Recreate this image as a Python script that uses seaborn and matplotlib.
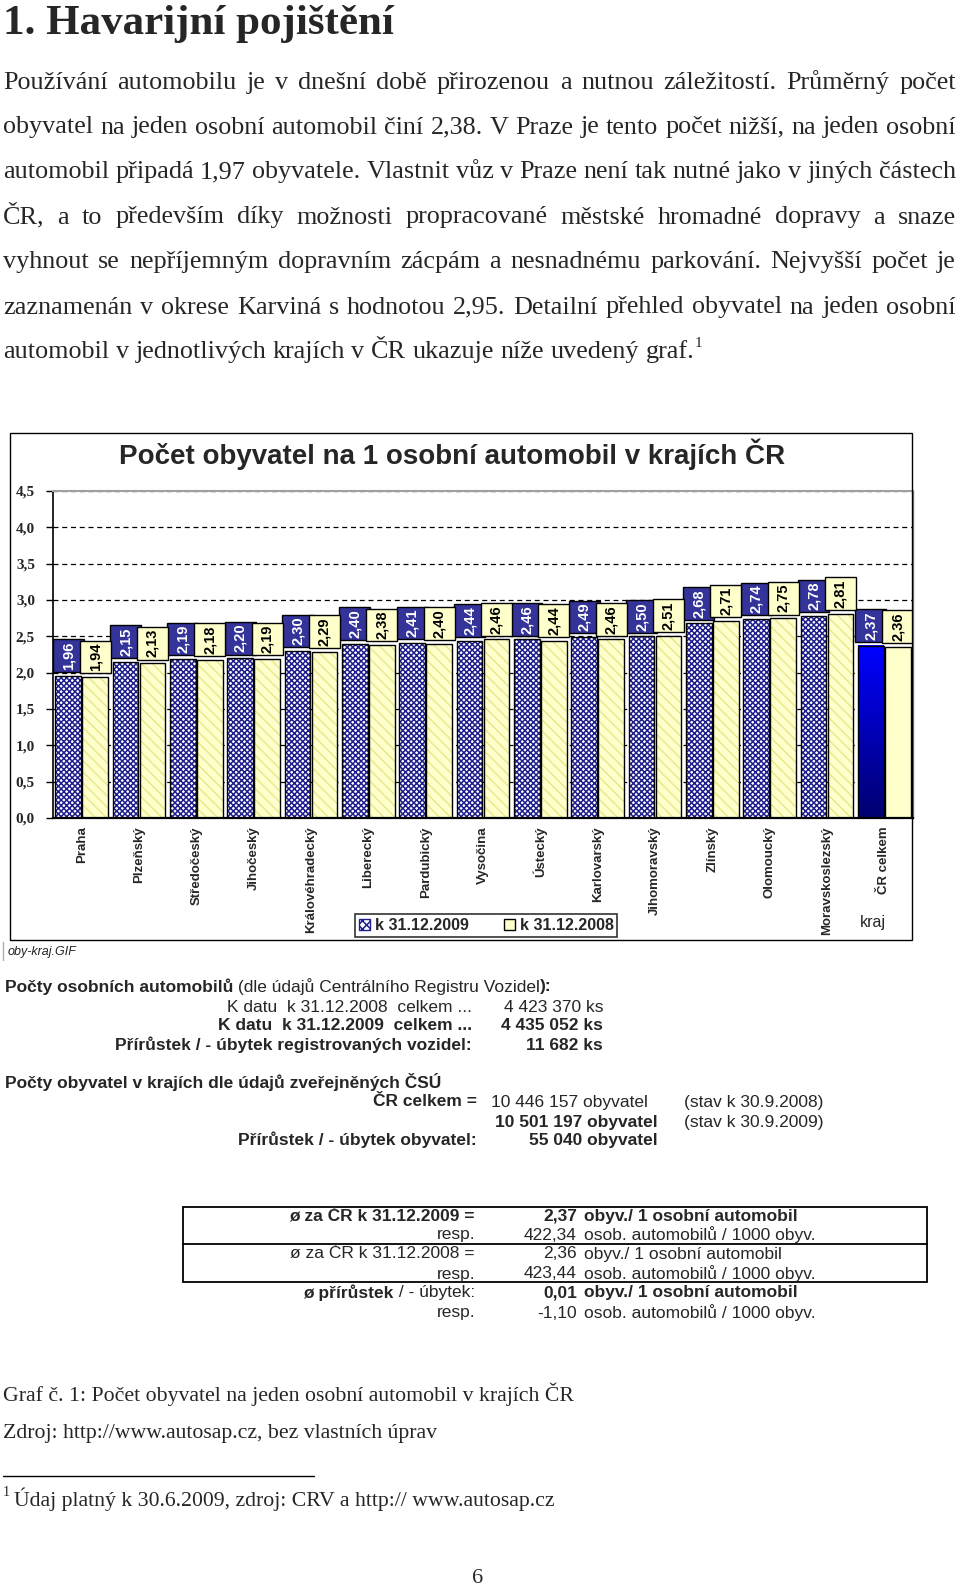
import numpy as np
import pandas as pd
import matplotlib
matplotlib.use('Agg')
import matplotlib.pyplot as plt
import seaborn as sns
from matplotlib.patches import Rectangle, Patch
from matplotlib.lines import Line2D
from matplotlib.colors import LinearSegmentedColormap

# data
kraje = ['Praha', 'Plzeňský', 'Středočeský', 'Jihočeský', 'Královéhradecký',
         'Liberecký', 'Pardubický', 'Vysočina', 'Ústecký', 'Karlovarský',
         'Jihomoravský', 'Zlínský', 'Olomoucký', 'Moravskoslezský', 'ČR celkem']
obyv_2009 = [1.96, 2.15, 2.19, 2.20, 2.30, 2.40, 2.41, 2.44, 2.46, 2.49,
             2.50, 2.68, 2.74, 2.78, 2.37]
obyv_2008 = [1.94, 2.13, 2.18, 2.19, 2.29, 2.38, 2.40, 2.46, 2.44, 2.46,
             2.51, 2.71, 2.75, 2.81, 2.36]
serie = ['k 31.12.2009', 'k 31.12.2008']
y_ticks = [0.0, 0.5, 1.0, 1.5, 2.0, 2.5, 3.0, 3.5, 4.0, 4.5]

nadpis = '1. Havarijní pojištění'
odstavec = [
    'Používání automobilu je v dnešní době přirozenou a nutnou záležitostí. Průměrný počet',
    'obyvatel na jeden osobní automobil činí 2,38. V Praze je tento počet nižší, na jeden osobní',
    'automobil připadá 1,97 obyvatele. Vlastnit vůz v Praze není tak nutné jako v jiných částech',
    'ČR, a to především díky možnosti propracované městské hromadné dopravy a snaze',
    'vyhnout se nepříjemným dopravním zácpám a nesnadnému parkování. Nejvyšší počet je',
    'zaznamenán v okrese Karviná s hodnotou 2,95. Detailní přehled obyvatel na jeden osobní',
    'automobil v jednotlivých krajích v ČR ukazuje níže uvedený graf.',
]

df = pd.DataFrame({
    'kraj': kraje * 2,
    'rok': [serie[0]] * len(kraje) + [serie[1]] * len(kraje),
    'hodnota': obyv_2009 + obyv_2008,
})

W, H = 960, 1586
sns.set_style('white')
plt.rcParams['font.family'] = ['Liberation Sans', 'DejaVu Sans']
plt.rcParams['hatch.linewidth'] = 1.1

SERIF = ['Liberation Serif', 'DejaVu Serif']
SANS = ['Liberation Sans', 'DejaVu Sans']


def fx(px):
    return px / W


def fy(py):
    return 1 - py / H


fig = plt.figure(figsize=(W / 100, H / 100), dpi=100, facecolor='white')
renderer = fig.canvas.get_renderer()

# ---- page text above the chart ----
fig.text(fx(3), fy(34), nadpis, fontsize=31, fontweight='bold', family=SERIF, va='baseline')

baselines = [89, 133.5, 178, 223.5, 268, 313.5, 358]
body_size = 18.8
for i, (line, yb) in enumerate(zip(odstavec, baselines)):
    words = line.split(' ')
    texts = [fig.text(0, fy(yb), w, fontsize=body_size, family=SERIF, va='baseline') for w in words]
    widths = [t.get_window_extent(renderer).width for t in texts]
    last = i == len(odstavec) - 1
    gap = body_size * 0.25 * 100 / 72 if last else (956 - 3 - sum(widths)) / (len(words) - 1)
    x = 3
    for t, w in zip(texts, widths):
        t.set_x(fx(x))
        x += w + gap
    if last:
        fig.text(fx(x - gap), fy(yb - 11), '1', fontsize=11, family=SERIF, va='baseline')

# ---- chart frame and title ----
fig.add_artist(Rectangle((fx(10), fy(940)), (912 - 10) / W, (940 - 433) / H,
                         transform=fig.transFigure, fill=False, ec='black', lw=1))
fig.text(fx(452), fy(454), 'Počet obyvatel na 1 osobní automobil v krajích ČR',
         fontsize=20, fontweight='bold', family=SANS, ha='center', va='center')

ax = fig.add_axes([fx(53), fy(818), (913 - 53) / W, (818 - 491) / H])
sns.barplot(data=df, x='kraj', y='hodnota', hue='rok', hue_order=serie,
            palette=['#ffffff', '#ffffcc'], width=0.94, gap=0.05, saturation=1,
            errorbar=None, legend=False, ax=ax)

navy = '#333399'
cmap = LinearSegmentedColormap.from_list('cr', ['#000070', '#0000ff'])
for series_idx, bars in enumerate(ax.containers):
    values = obyv_2009 if series_idx == 0 else obyv_2008
    for i, p in enumerate(bars):
        x0, w, h = p.get_x(), p.get_width(), p.get_height()
        last = kraje[i] == 'ČR celkem'
        if series_idx == 0:
            if last:
                p.set_facecolor('none')
                p.set_linewidth(0)
                grad = np.linspace(0, 1, 64).reshape(-1, 1)
                ax.imshow(grad, extent=(x0, x0 + w, 0, h), origin='lower',
                          aspect='auto', cmap=cmap, zorder=2)
            else:
                p.set_facecolor('white')
                p.set_edgecolor('#1e1e8c')
                p.set_hatch('xxxxxx')
                p.set_linewidth(0)
        else:
            p.set_facecolor('#ffffcc')
            if not last:
                p.set_edgecolor('#e8e890')
                p.set_hatch('\\\\\\')
            p.set_linewidth(0)
        ax.add_patch(Rectangle((x0, 0), w, h, fill=False, ec='black', lw=1, zorder=2.5))

        # value label box
        bw = w * 1.22
        xc = x0 + w / 2
        fc = navy if series_idx == 0 else '#ffffcc'
        tc = 'white' if series_idx == 0 else 'black'
        ax.add_patch(Rectangle((xc - bw / 2, h + 0.05), bw, 0.45, fc=fc, ec='black',
                               lw=1, zorder=3 + series_idx))
        ax.text(xc, h + 0.05 + 0.225, f'{values[i]:.2f}'.replace('.', ','),
                rotation=90, ha='center', va='center', color=tc, fontsize=10.5,
                fontweight='bold', family=SANS, zorder=5)

ax.set_xlim(-0.5, len(kraje) - 0.5)
ax.set_ylim(0, 4.5)
ax.set_xlabel('')
ax.set_ylabel('')
ax.set_axisbelow(True)
ax.yaxis.grid(True, linestyle=(0, (4, 3)), color='black', lw=0.9)
ax.xaxis.grid(False)

ax.set_yticks(y_ticks)
ax.set_yticklabels([f'{t:.1f}'.replace('.', ',') for t in y_ticks],
                   fontsize=11, fontweight='bold', family=SERIF)
ax.set_xticks(range(len(kraje)))
ax.set_xticklabels(kraje, rotation=90, fontsize=9.5, fontweight='bold', family=SANS,
                   ha='center', va='top')
ax.set_xticks(np.arange(0.5, len(kraje) - 1, 1), minor=True)
ax.tick_params(axis='x', which='major', length=0, pad=6)
ax.tick_params(axis='x', which='minor', length=5, width=1, direction='out', color='black')
ax.tick_params(axis='y', length=5, width=1, direction='out', color='black', pad=8, left=True)

for side in ['left', 'bottom']:
    ax.spines[side].set_color('black')
ax.spines['left'].set_linewidth(1.2)
ax.spines['bottom'].set_linewidth(1.6)
ax.spines['top'].set_color('#a0a0a0')
ax.spines['top'].set_linewidth(1.5)
ax.spines['right'].set_color('#808080')
ax.spines['right'].set_linewidth(1)
for s in ax.spines.values():
    s.set_visible(True)

handles = [Patch(facecolor='white', edgecolor='#1e1e8c', hatch='xxxx', label=serie[0]),
           Patch(facecolor='#ffffcc', edgecolor='black', label=serie[1])]
leg = fig.legend(handles=handles, loc='center', bbox_to_anchor=(fx(486), fy(925.5)), ncol=2,
                 frameon=True, fancybox=False, edgecolor='black',
                 prop=dict(family=SANS, weight='bold', size=11.5),
                 handlelength=0.7, handleheight=0.7, handletextpad=0.3,
                 columnspacing=2.2, borderpad=0.25)
leg.get_frame().set_linewidth(1.2)

fig.text(fx(873), fy(923), 'kraj', fontsize=11.5, family=SANS, ha='center', va='center')
fig.text(fx(8), fy(952), 'oby-kraj.GIF', fontsize=9, style='italic', family=SANS,
         va='center', color='#222222')
fig.add_artist(Line2D([fx(3), fx(3)], [fy(942), fy(960)], transform=fig.transFigure,
                      color='#b0b0b0', lw=1))

TS = 12.5


# ---- text blocks under the chart ----
def runs(x, y, parts, size=TS):
    for txt, wt in parts:
        t = fig.text(fx(x), fy(y), txt, fontsize=size, fontweight=wt, family=SANS, va='center')
        x += t.get_window_extent(renderer).width


def tx(x, y, txt, wt='normal', ha='left', size=TS):
    return fig.text(fx(x), fy(y), txt, fontsize=size, fontweight=wt, family=SANS, ha=ha, va='center')


runs(5, 987, [('Počty osobních automobilů', 'bold'),
              (' (dle údajů Centrálního Registru Vozidel', 'normal'), ('):', 'bold')])
tx(472, 1007, 'K datu  k 31.12.2008  celkem ...', ha='right')
tx(472, 1026, 'K datu  k 31.12.2009  celkem ...', 'bold', 'right')
tx(472, 1045, 'Přírůstek / - úbytek registrovaných vozidel:', 'bold', 'right')
tx(603, 1007, '4 423 370 ks', ha='right')
tx(603, 1026, '4 435 052 ks', 'bold', 'right')
tx(603, 1045, '11 682 ks', 'bold', 'right')

tx(5, 1082, 'Počty obyvatel v krajích dle údajů zveřejněných ČSÚ', 'bold')
tx(477, 1101, 'ČR celkem =', 'bold', 'right')
tx(477, 1140, 'Přírůstek / - úbytek obyvatel:', 'bold', 'right')
tx(648, 1102, '10 446 157 obyvatel', ha='right')
tx(658, 1122, '10 501 197 obyvatel', 'bold', 'right')
tx(658, 1140, '55 040 obyvatel', 'bold', 'right')
tx(684, 1102, '(stav k 30.9.2008)')
tx(684, 1122, '(stav k 30.9.2009)')

fig.add_artist(Rectangle((fx(183), fy(1282)), (927 - 183) / W, (1282 - 1207) / H,
                         transform=fig.transFigure, fill=False, ec='black', lw=1.3))
fig.add_artist(Line2D([fx(183), fx(927)], [fy(1244), fy(1244)], transform=fig.transFigure,
                      color='black', lw=1.3))
tab_y = [1216, 1235, 1254, 1274, 1293, 1313]
tx(475, tab_y[0], 'ø za ČR k 31.12.2009 =', 'bold', 'right')
tx(475, tab_y[1], 'resp.', ha='right')
tx(475, tab_y[2], 'ø za ČR k 31.12.2008 =', ha='right')
tx(475, tab_y[3], 'resp.', ha='right')
t = tx(475, tab_y[4], ' / - úbytek:', ha='right')
wpart = t.get_window_extent(renderer).width
tx(475 - wpart, tab_y[4], 'ø přírůstek', 'bold', 'right')
tx(475, tab_y[5], 'resp.', ha='right')

tab_num = ['2,37', '422,34', '2,36', '423,44', '0,01', '-1,10']
tab_unit = ['obyv./ 1 osobní automobil', 'osob. automobilů / 1000 obyv.',
            'obyv./ 1 osobní automobil', 'osob. automobilů / 1000 obyv.',
            'obyv./ 1 osobní automobil', 'osob. automobilů / 1000 obyv.']
tab_bold = [True, False, False, False, True, False]
for yy, n, u, b in zip(tab_y, tab_num, tab_unit, tab_bold):
    wt = 'bold' if b else 'normal'
    tx(577, yy, n, wt, 'right')
    tx(584, yy, u, wt)

# ---- caption and footnote ----
fig.text(fx(3), fy(1401), 'Graf č. 1: Počet obyvatel na jeden osobní automobil v krajích ČR',
         fontsize=15.7, family=SERIF, va='baseline')
fig.text(fx(3), fy(1438), 'Zdroj: http://www.autosap.cz, bez vlastních úprav',
         fontsize=15.7, family=SERIF, va='baseline')
fig.add_artist(Line2D([fx(3), fx(314)], [fy(1476), fy(1476)], transform=fig.transFigure,
                      color='black', lw=1))
fig.text(fx(3), fy(1496), '1', fontsize=10, family=SERIF, va='baseline')
fig.text(fx(14), fy(1506), 'Údaj platný k 30.6.2009, zdroj: CRV a http:// www.autosap.cz',
         fontsize=15.7, family=SERIF, va='baseline')
fig.text(fx(478), fy(1583), '6', fontsize=16, family=SERIF, ha='center', va='baseline')

fig.savefig('out.png', dpi=100, facecolor='white')
